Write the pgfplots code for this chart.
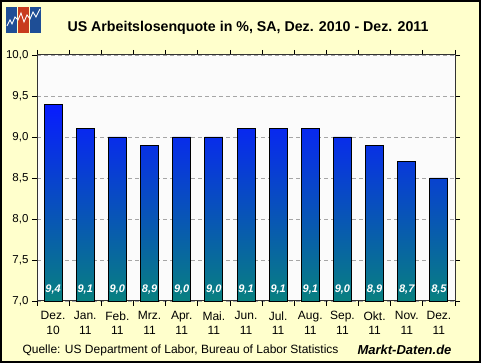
\documentclass[border=0pt]{standalone}
\usepackage{fontspec}
\setmainfont{Liberation Sans}
\usepackage{pgfplots}
\usepackage{pgfplotstable}
\pgfplotsset{compat=1.18}
\definecolor{bgyellow}{RGB}{255,255,204}
\definecolor{plotbg}{RGB}{251,251,251}
\definecolor{bartop}{RGB}{8,28,255}
\definecolor{barbot}{RGB}{8,128,128}
\definecolor{logoblue}{RGB}{30,78,150}
\definecolor{logored}{RGB}{200,60,30}
\pgfplotstableread{
x y
0 9.4
1 9.1
2 9.0
3 8.9
4 9.0
5 9.0
6 9.1
7 9.1
8 9.1
9 9.0
10 8.9
11 8.7
12 8.5
}\datatable
\begin{document}
\begin{tikzpicture}[x=1pt,y=1pt]
\fill[bgyellow] (0,0) rectangle (481,363);
\draw[black, line width=2pt] (1,1) rectangle (480,362);
% logo
\fill[logoblue] (6,330) rectangle (17,356);
\fill[logored] (18,330) rectangle (29,356);
\fill[logoblue] (30,330) rectangle (41,356);
\draw[white, line width=0.9pt] (7,337) -- (10,343) -- (12,339) -- (15,346) -- (18,343) -- (21,350) -- (24,341) -- (27,348) -- (30,344) -- (33,351) -- (36,346) -- (40,354);
\node[font=\fontsize{14.2}{17}\selectfont\bfseries] at (248,335) {US Arbeitslosenquote in \%, SA, Dez. 2010 - Dez. 2011};
\begin{axis}[
  at={(37pt,62pt)}, anchor=south west,
  scale only axis, width=418pt, height=246pt,
  xmin=-0.5, xmax=12.5, ymin=7, ymax=10,
  axis background/.style={fill=plotbg},
  axis line style={draw=black!80, line width=1pt},
  ytick={7,7.5,8,8.5,9,9.5,10},
  yticklabel style={font=\fontsize{11.5}{14}\selectfont, /pgf/number format/.cd, fixed, fixed zerofill, precision=1, use comma, assume math mode=true},
  tick align=outside,
  major tick length=5pt,
  tick style={black, line width=0.8pt},
  xtick={-0.5,0.5,...,12.5},
  xticklabels={},
  extra x ticks={0,1,2,3,4,5,6,7,8,9,10,11,12},
  extra x tick labels={Dez.\\10,Jan.\\11,Feb.\\11,Mrz.\\11,Apr.\\11,Mai.\\11,Jun.\\11,Jul.\\11,Aug.\\11,Sep.\\11,Okt.\\11,Nov.\\11,Dez.\\11},
  extra x tick style={major tick length=0pt, grid=none},
  xticklabel style={align=center, yshift=-7pt, font=\fontsize{12}{14.5}\selectfont},
  ymajorgrids, xmajorgrids=false,
  grid style={gray!70, dash pattern=on 4pt off 3pt, line width=0.8pt},
  clip=false,
]
\addplot[ybar, bar width=18pt, draw=black, line width=0.9pt, top color=bartop, bottom color=barbot] table[x=x,y=y] {\datatable};
\addplot[draw=none, nodes near coords, point meta=explicit,
  every node near coord/.append style={anchor=center, text=white, font=\fontsize{11}{12}\selectfont\bfseries\itshape, /pgf/number format/.cd, fixed, fixed zerofill, precision=1, use comma, assume math mode=true}]
  table[x=x, y expr=7.134, meta=y] {\datatable};
\end{axis}
\node[anchor=west, font=\fontsize{12}{14}\selectfont] at (19,13) {Quelle: US Department of Labor, Bureau of Labor Statistics};
\node[anchor=east, font=\fontsize{13}{15}\selectfont\bfseries\itshape] at (455,13) {Markt-Daten.de};
\end{tikzpicture}
\end{document}
